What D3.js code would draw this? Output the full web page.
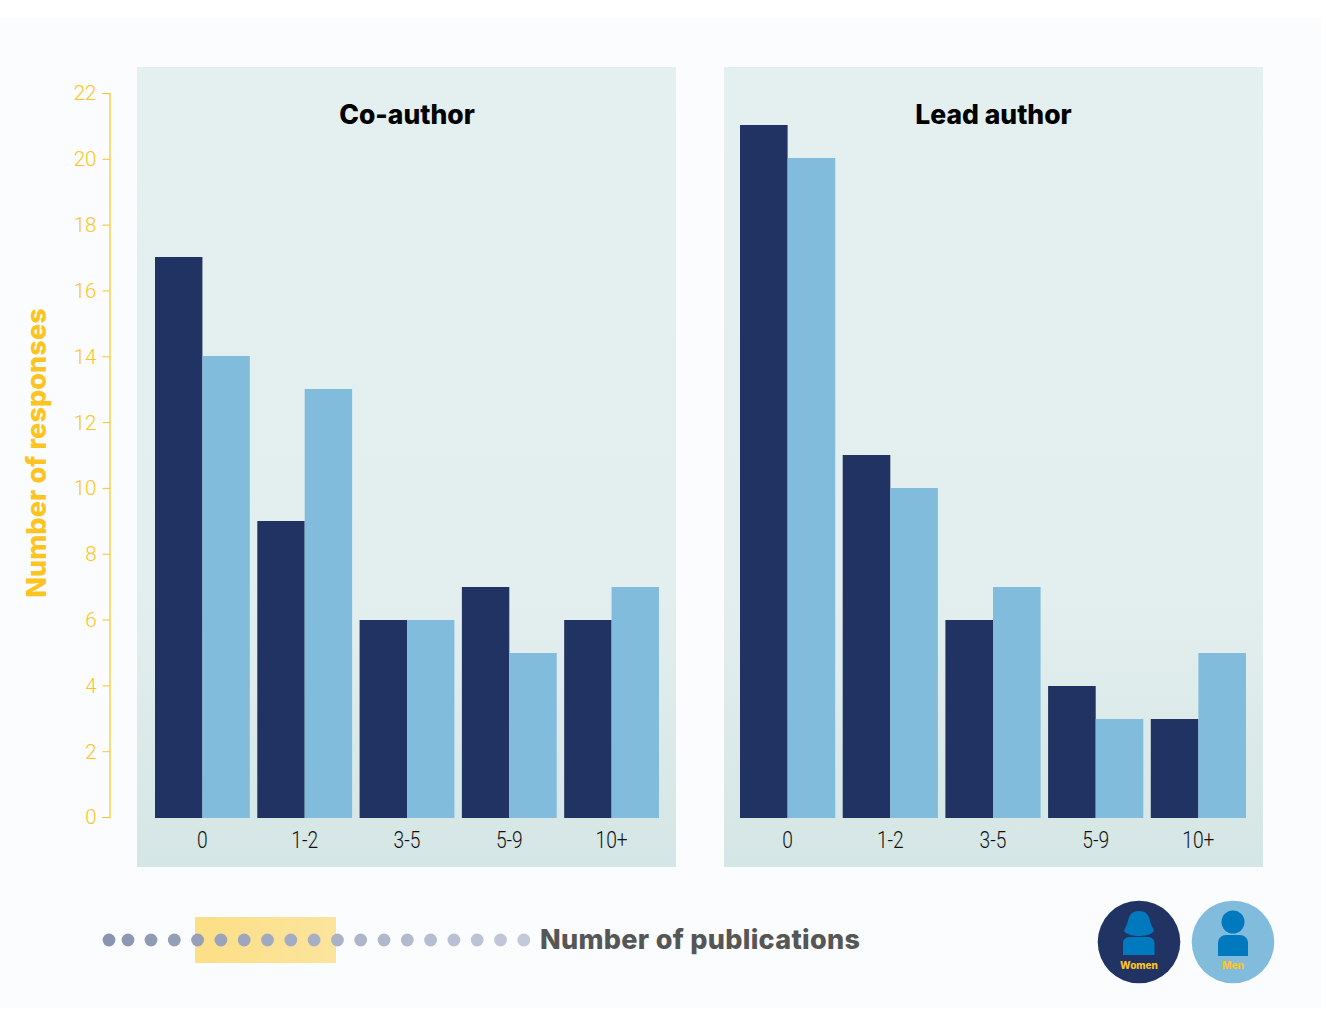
<!DOCTYPE html>
<html><head><meta charset="utf-8">
<script src="https://cdn.jsdelivr.net/npm/d3@7/dist/d3.min.js"></script>
<style>html,body{margin:0;padding:0;background:#fff}svg{display:block}</style>
</head><body><svg id="c" width="1326" height="1010"></svg>
<script>
const categories = ["0","1-2","3-5","5-9","10+"];
const coWomen = [17,9,6,7,6];
const coMen = [14,13,6,5,7];
const leadWomen = [21,11,6,4,3];
const leadMen = [20,10,7,3,5];
const yTicks = [0,2,4,6,8,10,12,14,16,18,20,22];
const panelTitles = ["Co-author","Lead author"];
const legendLabels = ["Women","Men"];
const NAVY="#203363", SKY="#81bcdd", GOLD="#fdc421", ICON="#0079be";
const HEAVY = "Inter,Lato,sans-serif";
const svg = d3.select("#c");
const defs = svg.append("defs");
const grad = defs.append("linearGradient").attr("id","pg").attr("x1",0).attr("x2",0).attr("y1",0).attr("y2",1);
grad.append("stop").attr("offset","0%").attr("stop-color","#e4f0f0");
grad.append("stop").attr("offset","65%").attr("stop-color","#e3efee");
grad.append("stop").attr("offset","100%").attr("stop-color","#d4e6e5");
const yg = defs.append("linearGradient").attr("id","yg");
yg.append("stop").attr("offset","0%").attr("stop-color","#fcdf86");
yg.append("stop").attr("offset","100%").attr("stop-color","#fbe49c");

svg.append("rect").attr("x",0).attr("y",18).attr("width",1321).attr("height",990).attr("fill","#fbfcfe");

const y = d3.scaleLinear().domain([0,22]).range([818,92]);
const panels = [
 {title:panelTitles[0],w:coWomen,m:coMen,px:137,x0:155,x1:659,tx:407},
 {title:panelTitles[1],w:leadWomen,m:leadMen,px:724,x0:740,x1:1246,tx:993.5}
];
panels.forEach(p=>{
  const g = svg.append("g");
  g.append("rect").attr("x",p.px).attr("y",67).attr("width",539).attr("height",800).attr("fill","url(#pg)");
  const x = d3.scaleBand().domain(categories).range([p.x0,p.x1]).paddingInner(0.073);
  const xs = d3.scaleBand().domain(["w","m"]).range([0,x.bandwidth()]);
  g.selectAll("rect.w").data(categories).join("rect").attr("class","w")
    .attr("x",c=>x(c)).attr("width",xs.bandwidth())
    .attr("y",(c,i)=>y(p.w[i])).attr("height",(c,i)=>y(0)-y(p.w[i])).attr("fill",NAVY);
  g.selectAll("rect.m").data(categories).join("rect").attr("class","m")
    .attr("x",c=>x(c)+xs("m")).attr("width",xs.bandwidth())
    .attr("y",(c,i)=>y(p.m[i])).attr("height",(c,i)=>y(0)-y(p.m[i])).attr("fill",SKY);
  const ax = g.append("g").attr("transform","translate(0,818)").call(d3.axisBottom(x).tickSize(0).tickPadding(13));
  ax.select(".domain").remove();
  ax.selectAll("text").attr("fill","#111").attr("font-family","Roboto,sans-serif").attr("font-weight",300).attr("font-size",24).attr("transform","scale(0.8,1)");
  g.append("text").attr("x",p.tx).attr("y",124).attr("text-anchor","middle")
    .attr("font-family",HEAVY).attr("font-weight",800).attr("font-size",26.5).attr("fill","#000").text(p.title);
});

const ay = d3.scaleLinear().domain([0,22]).range([817,93]);
const yAxis = svg.append("g").attr("transform","translate(109.5,0)").call(d3.axisLeft(ay).tickValues(yTicks).tickSize(7).tickPadding(6));
yAxis.select(".domain").attr("stroke",GOLD).attr("stroke-width",1.2);
yAxis.selectAll("line").attr("stroke",GOLD);
yAxis.selectAll("text").attr("fill",GOLD).attr("font-family","Roboto,sans-serif").attr("font-weight",300).attr("font-size",20.5).attr("dy","0.34em");
svg.append("text").attr("transform","translate(46,453) rotate(-90)").attr("text-anchor","middle")
  .attr("font-family",HEAVY).attr("font-weight",800).attr("font-size",27).attr("letter-spacing",0.1).attr("fill",GOLD).text("Number of responses");

// footer
svg.append("rect").attr("x",195).attr("y",917).attr("width",141).attr("height",46).attr("fill","url(#yg)");
const dotX = [109,128].concat(d3.range(17).map(i=>151+i*23.3));
const dotColor = d3.scaleLinear().domain([0,18]).range(["#8995b0","#c2c9d9"]);
defs.append("clipPath").attr("id","dc").append("rect").attr("x",90).attr("y",920).attr("width",440).attr("height",40);
svg.append("g").attr("clip-path","url(#dc)").selectAll("circle").data(dotX).join("circle")
  .attr("cx",d=>d).attr("cy",940).attr("r",6.4).attr("fill",(d,i)=>dotColor(i));
svg.append("text").attr("x",540).attr("y",949).attr("font-family",HEAVY).attr("font-weight",800).attr("font-size",27).attr("letter-spacing",0.3).attr("fill","#555655").text("Number of publications");

// legend
const lg = [{cx:1139,c:NAVY,l:legendLabels[0],col:GOLD},{cx:1233,c:SKY,l:legendLabels[1],col:GOLD}];
lg.forEach((d,i)=>{
  const g = svg.append("g").attr("transform",`translate(${d.cx},942)`);
  g.append("circle").attr("r",41.3).attr("fill",d.c);
  if(i===0){
    g.append("path").attr("fill",ICON).attr("d","M0,-31 C-7,-31 -10,-27 -11,-21 C-12,-17 -14,-14 -15,-11 C-12,-7 -6,-6 0,-6 C6,-6 12,-7 15,-11 C14,-14 12,-17 11,-21 C10,-27 7,-31 0,-31 Z");
    g.append("path").attr("fill",ICON).attr("d","M-16,13 L-16,1 C-16,-4 -12,-5 -8,-5 L8,-5 C12,-5 15,-4 15.5,1 L15.5,13 Z");
  } else {
    g.append("circle").attr("cy",-20).attr("r",11.5).attr("fill",ICON);
    g.append("path").attr("fill",ICON).attr("d","M-15,14 L-15,1 C-15,-4 -11,-7 -7,-7 L7,-7 C11,-7 15,-4 15,1 L15,14 Z");
  }
  g.append("text").attr("y",27).attr("text-anchor","middle").attr("font-family",HEAVY).attr("font-weight",800).attr("font-size",10).attr("fill",d.col).text(d.l);
});
</script></body></html>
